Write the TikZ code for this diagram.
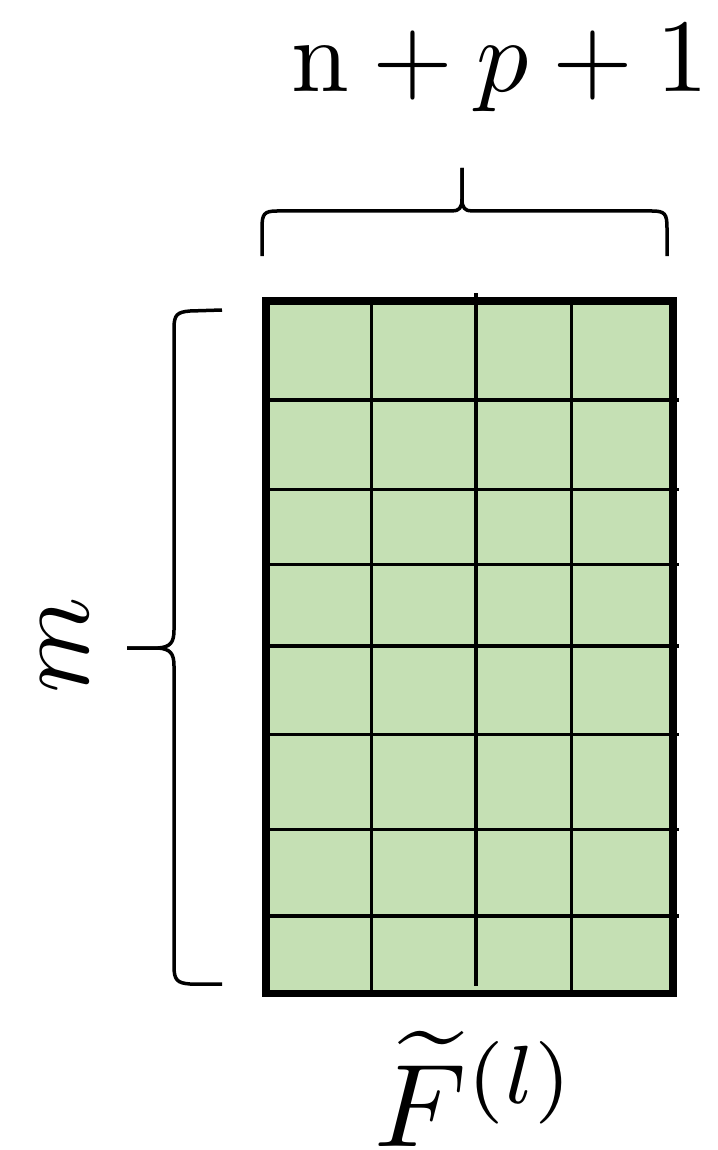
\documentclass[tikz,border=0pt]{standalone}
\usepackage{amsmath}
\definecolor{cellgreen}{HTML}{C5E0B4}
\begin{document}
\begin{tikzpicture}[x=1pt,y=-1pt,
  gridline/.style={line width=3.3pt,black},
  outerbox/.style={line width=7.5pt,black},
  bracepath/.style={line width=3.5pt,black,line cap=butt,line join=round},
  label/.style={inner sep=0pt,font=\fontsize{10}{12}\selectfont}]
\useasboundingbox (0,0) rectangle (717,1150);
% matrix corners
\coordinate (nw) at (266,301);
\coordinate (se) at (673,993.5);
\fill[cellgreen] (nw) rectangle (se);
% horizontal grid lines
\foreach \y in {400,489.3,564.3,646,734.3,829.3,916}{
  \draw[gridline] (nw |- 0,\y) -- ([xshift=5.5pt]se |- 0,\y);
}
% vertical grid lines
\draw[gridline] (371.7,301) -- (371.7,993.5);
\draw[gridline] (476,293) -- (476,986);
\draw[gridline] (571.7,301) -- (571.7,993.5);
\draw[outerbox] (nw) rectangle (se);
% top brace
\coordinate (tb) at (462,168);
\draw[bracepath] (262,256) -- (262,228) .. controls (262,214) and (264,211) .. (277,211)
  -- (452,211) .. controls (459,211) and (462,208) .. (462,199) -- (tb);
\draw[bracepath] (tb) -- (462,199) .. controls (462,208) and (465,211) .. (472,211)
  -- (652,211) .. controls (665,211) and (667,214) .. (667,228) -- (667,256);
% left brace
\coordinate (lb) at (127,648);
\draw[bracepath] (222,310) -- (190,311) .. controls (177,312) and (174,315) .. (174,328)
  -- (174,630) .. controls (174,643) and (170,647) .. (158,648) -- (lb);
\draw[bracepath] (lb) -- (158,648) .. controls (170,649) and (174,653) .. (174,666)
  -- (174,966) .. controls (174,980) and (177,983) .. (190,984) -- (222,984);
% labels
\node[label,anchor=base,scale=10.4] (top) at (500,92) {$\mathrm{n}+p+1$};
\node[label,rotate=90,scale=11] (m) at (65,645) {$m$};
\node[label,anchor=base,scale=11.8] (F) at (476,1146) {$\widetilde{F}^{(l)}$};
\end{tikzpicture}
\end{document}
